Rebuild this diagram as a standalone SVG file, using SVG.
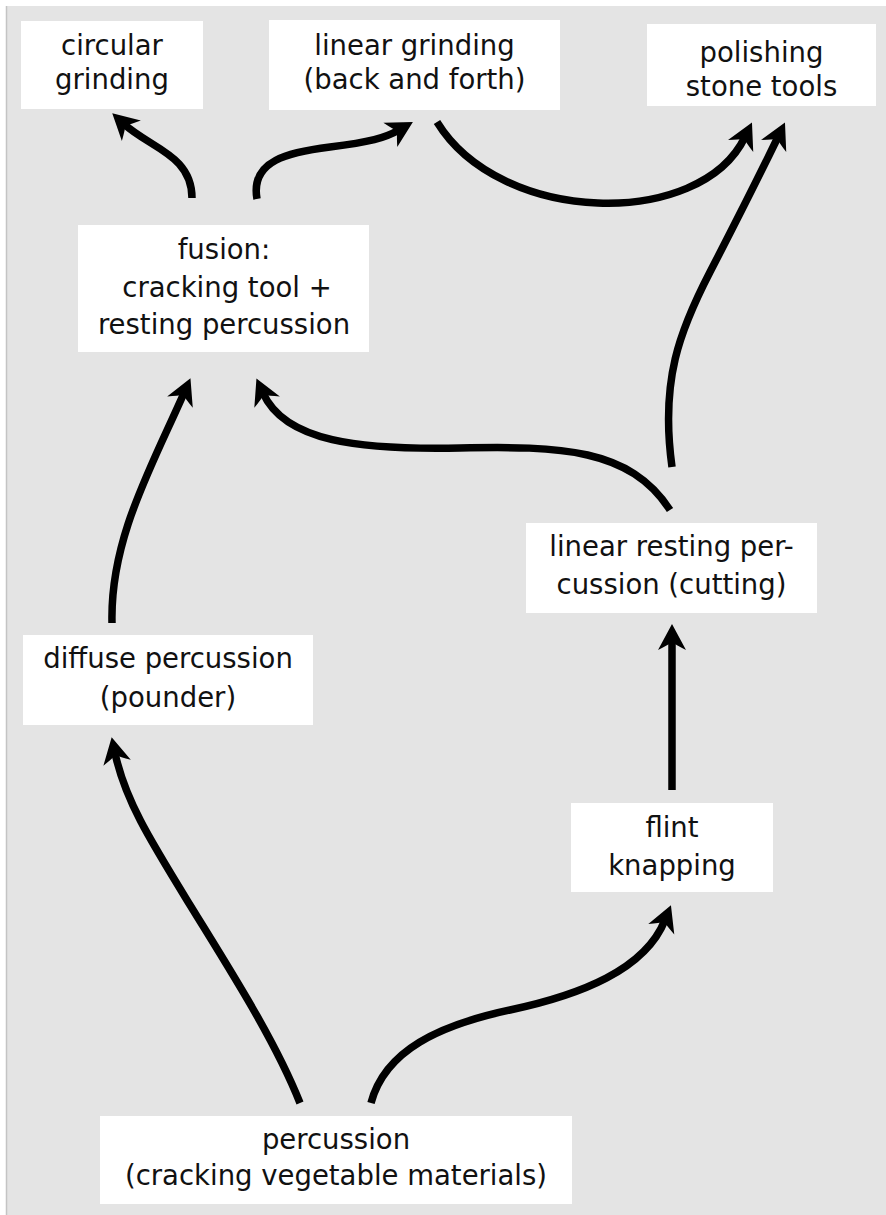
<svg xmlns="http://www.w3.org/2000/svg" width="886" height="1215" viewBox="0 0 886 1215">
<defs>
<style>
.bg{fill:#e4e4e4}
.box{fill:#ffffff}
.lbl{font-family:"DejaVu Sans","Liberation Sans",sans-serif;font-size:27.5px;fill:#111;text-anchor:middle}
.edge{fill:none;stroke:#000;stroke-width:7.5;stroke-linecap:butt;marker-end:url(#ah)}
</style>
<marker id="ah" markerUnits="userSpaceOnUse" viewBox="-12 -16 30 32" refX="0" refY="0" markerWidth="30" markerHeight="32" orient="auto">
<path d="M16,0 L-10,-14 Q-5,-4 -2,0 Q-5,4 -10,14 Z" fill="#000"/>
</marker>
</defs>
<rect x="0" y="0" width="886" height="1215" fill="#ffffff"/>
<rect class="bg" x="6" y="6" width="880" height="1209"/>
<line x1="6.5" y1="6" x2="6.5" y2="1215" stroke="#c4c4c4" stroke-width="1.5"/>

<g id="circular">
<rect class="box" x="21" y="21" width="182" height="88"/>
<text class="lbl" x="112" y="55">circular</text>
<text class="lbl" x="112" y="89">grinding</text>
</g>
<g id="linear-grinding">
<rect class="box" x="269" y="20" width="291" height="90"/>
<text class="lbl" x="414.5" y="55">linear grinding</text>
<text class="lbl" x="414.5" y="89">(back and forth)</text>
</g>
<g id="polishing">
<rect class="box" x="647" y="24" width="229" height="82"/>
<text class="lbl" x="761.5" y="62">polishing</text>
<text class="lbl" x="761.5" y="96">stone tools</text>
</g>
<g id="fusion">
<rect class="box" x="78" y="225" width="291" height="127"/>
<text class="lbl" x="224" y="259">fusion:</text>
<text class="lbl" x="227" y="297">cracking tool +</text>
<text class="lbl" x="224" y="334">resting percussion</text>
</g>
<g id="linear-resting">
<rect class="box" x="526" y="523" width="291" height="90"/>
<text class="lbl" x="671.5" y="556">linear resting per-</text>
<text class="lbl" x="671.5" y="594">cussion (cutting)</text>
</g>
<g id="diffuse">
<rect class="box" x="23" y="635" width="290" height="90"/>
<text class="lbl" x="168" y="668">diffuse percussion</text>
<text class="lbl" x="168" y="707">(pounder)</text>
</g>
<g id="flint">
<rect class="box" x="571" y="803" width="202" height="89"/>
<text class="lbl" x="672" y="837">flint</text>
<text class="lbl" x="672" y="875">knapping</text>
</g>
<g id="percussion">
<rect class="box" x="100" y="1116" width="472" height="88"/>
<text class="lbl" x="336" y="1149">percussion</text>
<text class="lbl" x="336" y="1185">(cracking vegetable materials)</text>
</g>

<g id="connectors">
<path class="edge" d="M192,198 C192,155 150,148 124,124"/>
<path class="edge" d="M257,199 C250,160 290,152 330,147 S385,138 399,130"/>
<path class="edge" d="M437,122 C500,225 700,230 745,137"/>
<path class="edge" d="M672,467 C660,380 680,330 710,272 S762,170 778,137"/>
<path class="edge" d="M670,510 C630,448 560,446 460,448 C360,450 285,442 263,393"/>
<path class="edge" d="M112,623 C110,540 150,470 184,393"/>
<path class="edge" d="M300,1103 C275,1040 230,970 190,905 S125,800 115,753"/>
<path class="edge" d="M371,1103 C385,1050 440,1025 510,1010 S645,970 665,920"/>
<path class="edge" d="M672,790 L672,640"/>
</g>
</svg>
